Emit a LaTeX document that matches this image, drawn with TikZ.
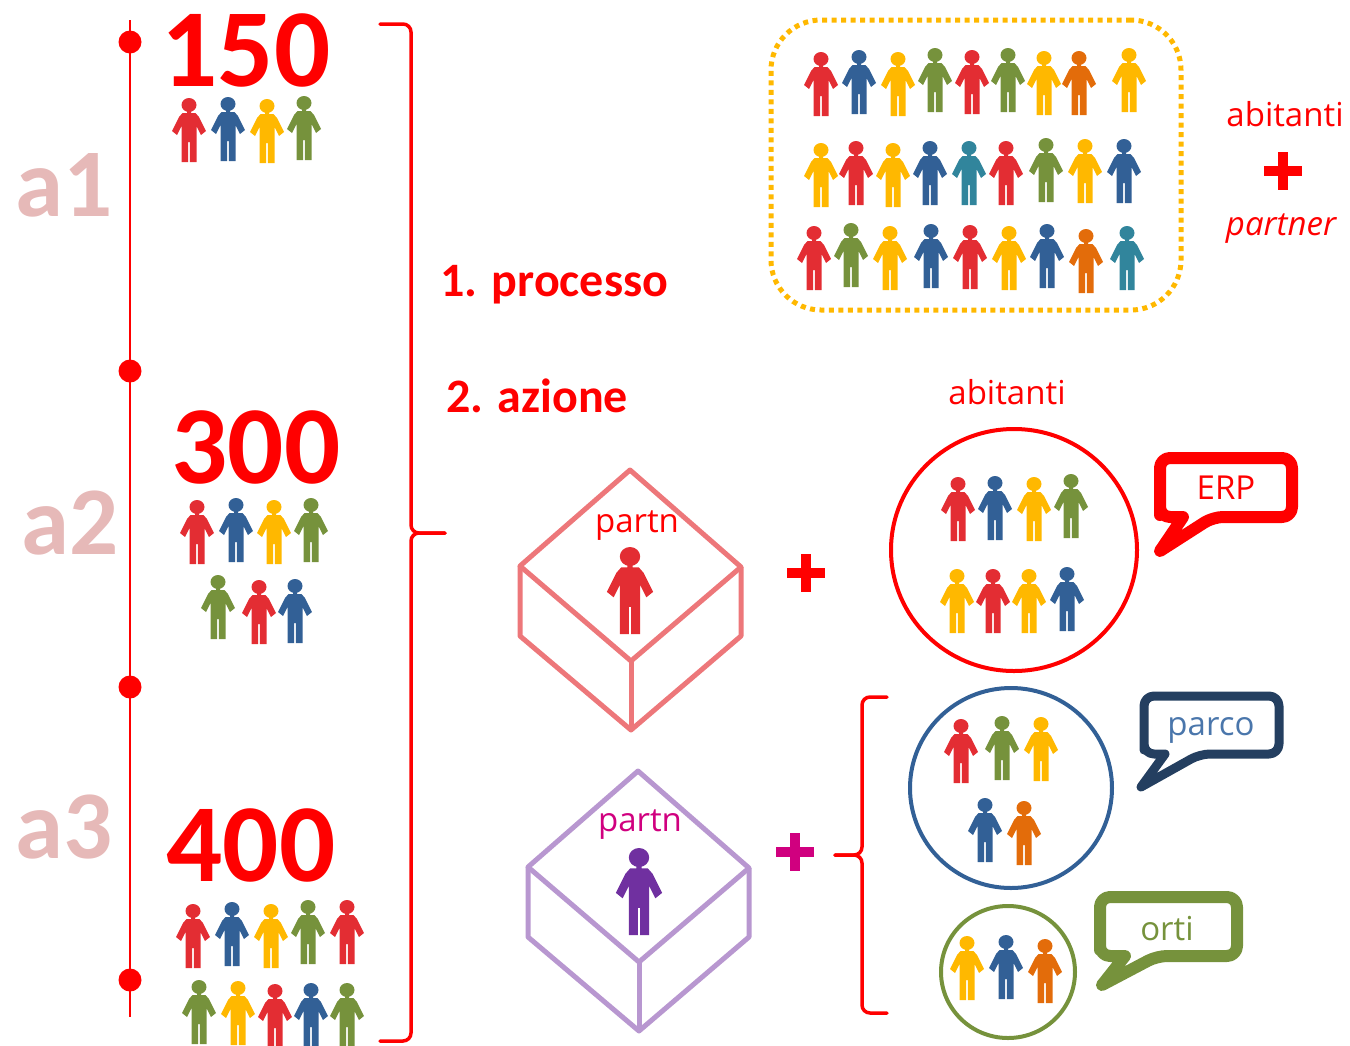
\documentclass[tikz,border=0pt]{standalone}
\usepackage{fontspec}
\setmainfont{Carlito}
\newfontfamily\labelfont{Open Sans}
\usetikzlibrary{shapes.geometric}
\tikzset{
	pics/person/.style={code={
		\fill[#1] (0,7) ellipse (7.5 and 7);
		\fill[#1] (-2,12) -- (2,12) -- (2,15) -- (6.5,15) -- (10,19) -- (17,33) -- (12,37) -- (7.5,28) -- (7.5,64) -- (0.8,64) -- (0.8,44) -- (-0.8,44) -- (-0.8,64) -- (-7.5,64) -- (-7.5,28) -- (-12,37) -- (-17,33) -- (-10,19) -- (-6.5,15) -- (-2,15) -- cycle;
	}},
	pics/box/.style={code={
		\draw[line width=5,#1,line join=round] (0,0) -- (111,97) -- (1,191) -- (-110,96) -- cycle;
		\draw[line width=5,#1,line join=round] (-110,96) -- (-110,166) -- (1,260) -- (111,166) -- (111,97);
		\draw[line width=5,#1] (1,191) -- (1,260);
	}},
	pics/plussign/.style={code={
		\draw[line width=10,#1] (-19,0) -- (19,0);
		\draw[line width=10,#1] (0,-19) -- (0,19);
	}},
	bignum/.style={text=red,font=\fontsize{111}{111}\selectfont\bfseries,inner sep=0},
	period/.style={text=cpink,font=\fontsize{97}{97}\selectfont\bfseries,inner sep=0},
	stepdot/.style={circle,fill=red,minimum size=23,inner sep=0},
	steptxt/.style={text=red,font=\fontsize{48}{48}\selectfont\bfseries,inner sep=0,anchor=west},
	note/.style={font=\labelfont\fontsize{33}{33}\selectfont,inner sep=0},
	group/.style={ellipse,draw,fill=none,inner sep=0},
	bubble/.style={rounded corners=10,line join=round},
	brace/.style={draw=red,line width=3.5,rounded corners=8,line cap=round},
}
\begin{document}
\begin{tikzpicture}[x=1pt,y=-1pt]
	\definecolor{cpink}{HTML}{E6B9B8}
	\definecolor{cr}{HTML}{E32D33}
	\definecolor{cb}{HTML}{326096}
	\definecolor{cy}{HTML}{FFB800}
	\definecolor{cg}{HTML}{76923C}
	\definecolor{co}{HTML}{E36C0A}
	\definecolor{ct}{HTML}{31859C}
	\definecolor{cv}{HTML}{7030A0}
	\definecolor{cnavy}{HTML}{243F60}
	\definecolor{cpar}{HTML}{4A76AB}
	\definecolor{cmag}{HTML}{D0007F}
	%
	\useasboundingbox (0,0) rectangle (1350,1045);
	%
	\coordinate (ltop) at (130,20);
	\coordinate (lbot) at (130,1017);
	\draw[red,line width=2] (ltop) -- (lbot);
	\node[stepdot] (d1) at (130,42) {};
	\node[stepdot] (d2) at (130,371) {};
	\node[stepdot] (d3) at (130,687) {};
	\node[stepdot] (d4) at (130,980) {};
	\node[period] (a1) at (64,185) {a1};
	\node[period] (a2) at (70,523) {a2};
	\node[period] (a3) at (64,827) {a3};
	\node[bignum] (n150) at (246,50) {150};
	\node[bignum] (n300) at (256,447) {300};
	\node[bignum] (n400) at (251,845) {400};
	%
	\foreach \px/\py/\pc in {189/98/cr,228/97/cb,267/99/cy,304/96/cg,
		197/500/cr,236/498/cb,274/500/cy,311/498/cg,218/575/cg,259/580/cr,295/579/cb,
		193/904/cr,232/902/cb,271/904/cy,308/900/cg,347/900/cr,
		199/980/cg,238/981/cy,275/984/cr,311/983/cb,347/983/cg,
		821/52/cr,859/50/cb,898/52/cy,935/48/cg,972/50/cr,1008/48/cg,1044/51/cy,1079/51/co,1129/48/cy,
		821/143/cy,856/141/cr,893/143/cy,930/141/cb,969/141/ct,1006/141/cr,1046/138/cg,1085/139/cy,1124/139/cb,
		814/226/cr,851/223/cg,890/226/cy,931/224/cb,970/225/cr,1009/226/cy,1047/224/cb,1086/229/co,1127/226/ct,
		958/477/cr,995/476/cb,1034/477/cy,1071/474/cg,957/569/cy,993/569/cr,1029/569/cy,1067/567/cb,
		961/719/cr,1002/716/cg,1041/717/cy,985/798/cb,1024/801/co,
		967/936/cy,1006/935/cb,1045/939/co}
		\pic at (\px,\py) {person=\pc};
	%
	\draw[brace] (380,24) -- (411,24) -- (411,533) -- (445,533);
	\draw[brace] (445,533) -- (411,533) -- (411,1041) -- (380,1041);
	\node[steptxt] (proc) at (440,285) {1. processo};
	\node[steptxt] (az) at (446,396) {2. azione};
	%
	\node[draw=cy,line width=5,dash pattern=on 5 off 4.5,rounded corners=50,minimum width=410,minimum height=290,inner sep=0] (crowd) at (976,165) {};
	\node[note,text=red] (ab1) at (1285,114) {abitanti};
	\pic at (1283,171) {plussign=red};
	\node[note,text=red,font=\labelfont\itshape\fontsize{33}{33}\selectfont] (pt) at (1281,229) {partner};
	\node[note,text=red] (ab2) at (1007,392) {abitanti};
	%
	\pic at (630,470) {box=cr!65!white};
	\node[note,text=red] (pa1) at (637,526) {partn};
	\pic[scale=1.36] at (630,547) {person=cr};
	\pic at (638,771) {box=cv!50!white};
	\node[note,text=cmag] (pa2) at (640,825) {partn};
	\pic[scale=1.36] at (639,848) {person=cv};
	\pic at (806,573) {plussign=red};
	\pic at (795,852) {plussign=cmag};
	%
	\node[group,draw=red,line width=4,minimum width=246,minimum height=242] (erp) at (1014,550) {};
	\node[group,draw=cb,line width=4,minimum width=202,minimum height=200] (parco) at (1011,788) {};
	\node[group,draw=cg,line width=4,minimum width=134,minimum height=132] (orti) at (1008,972) {};
	\draw[brace] (887,697) -- (862,697) -- (862,855) -- (835,855);
	\draw[brace] (835,855) -- (862,855) -- (862,1013) -- (887,1013);
	%
	\draw[red,line width=12,bubble] (1160,505) -- (1160,458) -- (1292,458) -- (1292,517) -- (1213,517) [sharp corners] -- (1160,551) -- (1183,517) [rounded corners=10] -- (1160,517) -- cycle;
	\node[note,text=red] (terp) at (1226,488) {ERP};
	\draw[cnavy,line width=9,bubble] (1144,740) -- (1144,696) -- (1279,696) -- (1279,754) -- (1200,754) [sharp corners] -- (1141,787) -- (1165,754) [rounded corners=10] -- (1144,754) -- cycle;
	\node[note,text=cpar] (tparco) at (1211,730) {parco};
	\draw[cg,line width=12,bubble] (1100,940) -- (1100,897) -- (1237,897) -- (1237,956) -- (1157,956) [sharp corners] -- (1102,985) -- (1125,956) [rounded corners=10] -- (1100,956) -- cycle;
	\node[note,text=cg] (torti) at (1167,929) {orti};
	%
\end{tikzpicture}
\end{document}
